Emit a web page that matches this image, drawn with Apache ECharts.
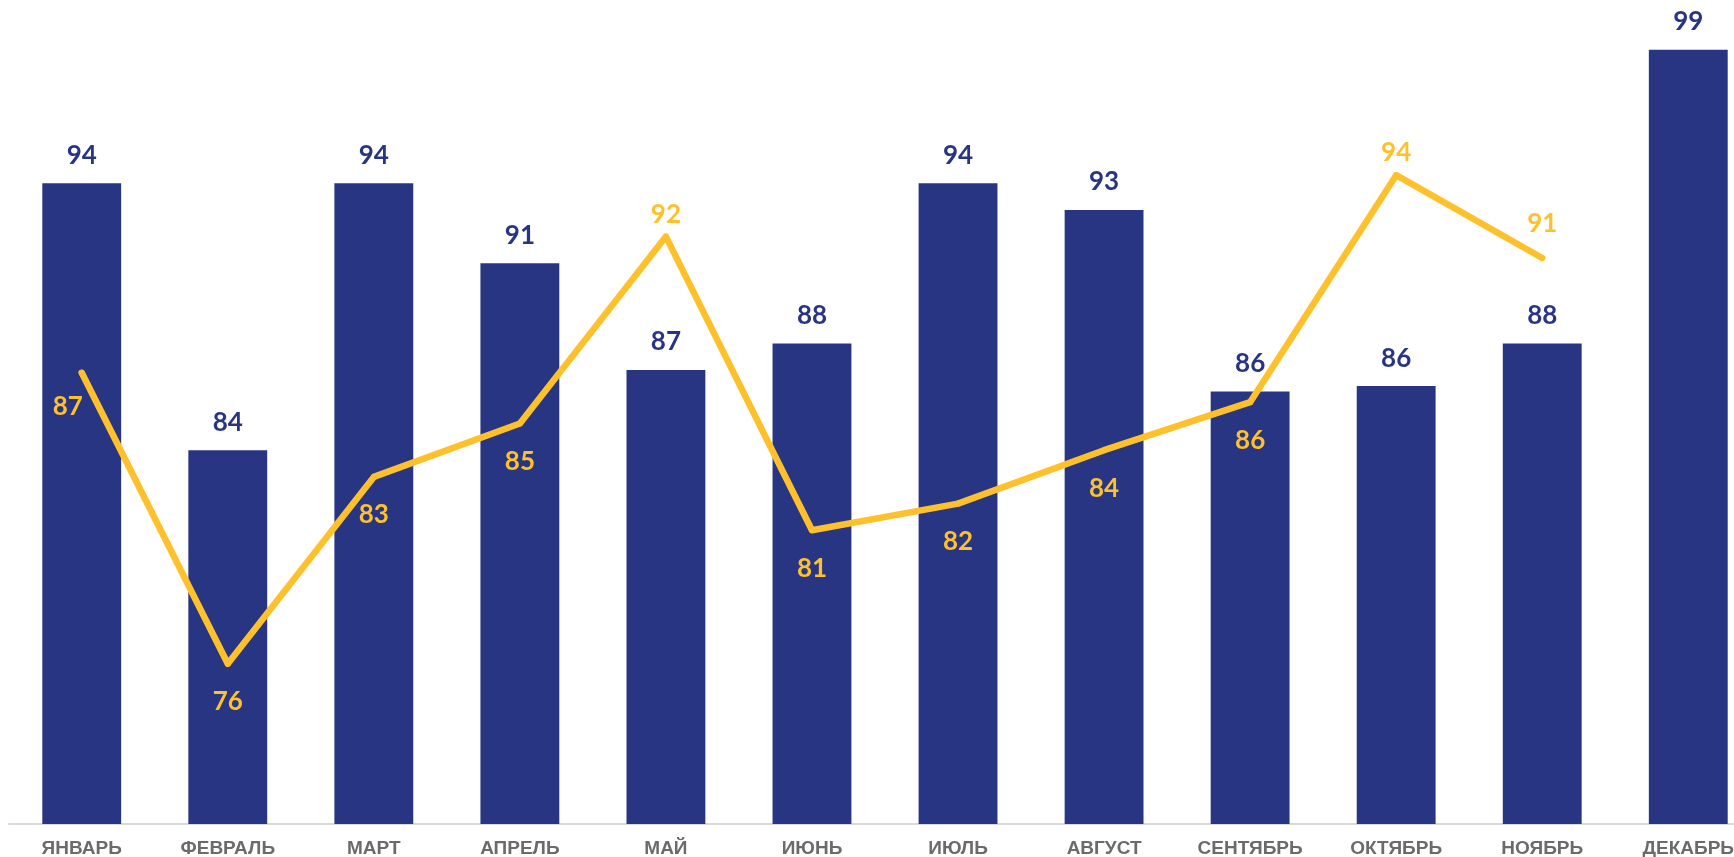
<!DOCTYPE html>
<html>
<head>
<meta charset="utf-8">
<script src="https://cdn.jsdelivr.net/npm/echarts@6/dist/echarts.min.js"></script>
<style>
html,body{margin:0;padding:0;background:#fff;}
#chart{width:1734px;height:857px;}
</style>
</head>
<body>
<div id="chart"></div>
<script>
const categories = ['ЯНВАРЬ','ФЕВРАЛЬ','МАРТ','АПРЕЛЬ','МАЙ','ИЮНЬ','ИЮЛЬ','АВГУСТ','СЕНТЯБРЬ','ОКТЯБРЬ','НОЯБРЬ','ДЕКАБРЬ'];
const barValues = [94, 84, 94, 91, 87, 88, 94, 93, 86.2, 86.4, 88, 99];
const lineValues = [86.9, 76, 83, 85, 92, 81, 82, 84, 85.8, 94.3, 91.2, null];

// label placement (style only)
const lineLabelOffsets = [[-14,34],[0,38],[0,38],[0,38],[0,-22],[0,38],[0,38],[0,38],[0,38],[0,-23],[0,-34],[0,0]];

const NAVY = '#283583';
const YELLOW = '#FEC12C';

const chart = echarts.init(document.getElementById('chart'), null, {renderer:'canvas'});
chart.setOption({
  animation: false,
  backgroundColor: '#ffffff',
  grid: {left: 8.7, top: 23, width: 1752.6, height: 801, containLabel: false, outerBoundsMode: 'none'},
  xAxis: {
    type: 'category',
    data: categories,
    axisLine: {show: true, lineStyle: {color: '#d9d9d9', width: 2}},
    axisTick: {show: false},
    axisLabel: {
      interval: 0,
      margin: 15,
      color: '#6b6b6b',
      fontFamily: 'Liberation Sans',
      fontWeight: 'bold',
      fontSize: 19
    }
  },
  yAxis: {
    type: 'value',
    show: false,
    min: 70,
    max: 100,
    splitLine: {show: false}
  },
  series: [
    {
      type: 'bar',
      data: barValues,
      barWidth: '54%',
      itemStyle: {color: NAVY},
      label: {
        show: true,
        position: 'top',
        distance: 15,
        color: NAVY,
        fontFamily: 'Lato',
        fontWeight: 'bold',
        fontSize: 26,
        formatter: p => Math.round(p.value)
      },
      z: 2
    },
    {
      type: 'line',
      data: lineValues.map((v, i) => ({
        value: v,
        label: {offset: lineLabelOffsets[i]}
      })),
      symbol: 'circle',
      symbolSize: 6,
      itemStyle: {color: YELLOW},
      lineStyle: {color: YELLOW, width: 6.5, cap: 'round', join: 'round'},
      label: {
        show: true,
        position: 'inside',
        color: YELLOW,
        fontFamily: 'Lato',
        fontWeight: 'bold',
        fontSize: 26,
        formatter: p => p.value == null ? '' : Math.round(p.value)
      },
      z: 5
    }
  ]
});
</script>
</body>
</html>
